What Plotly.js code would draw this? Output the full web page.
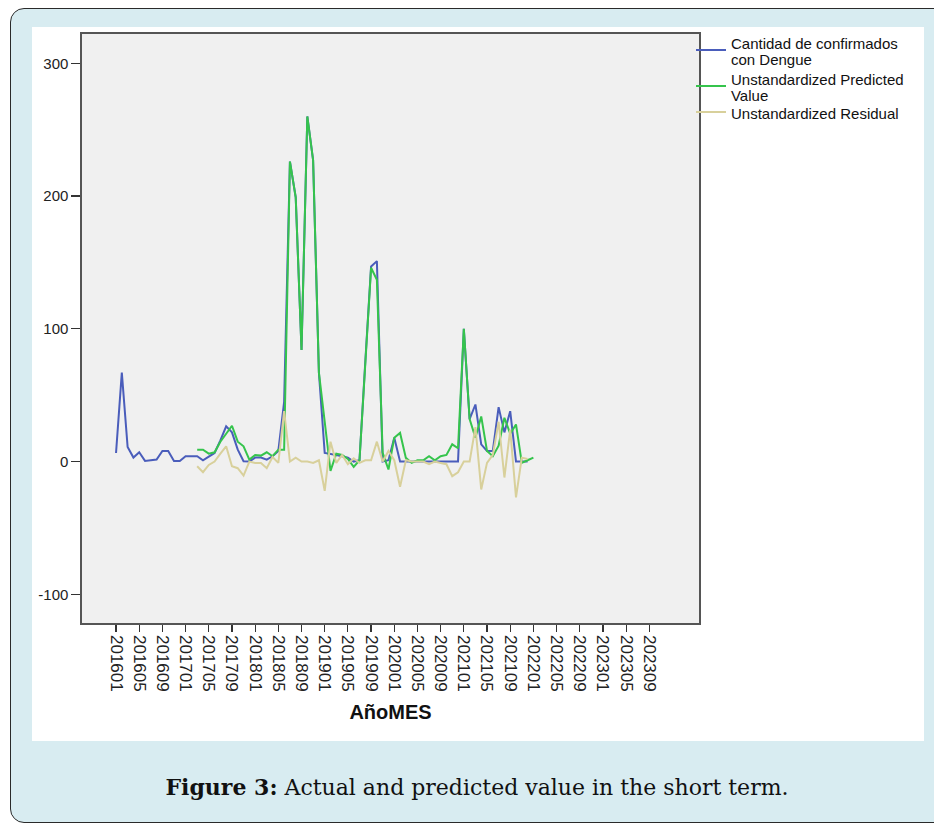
<!DOCTYPE html>
<html>
<head>
<meta charset="utf-8">
<script src="https://cdn.plot.ly/plotly-3.0.1.min.js"></script>
<style>
html,body{margin:0;padding:0;background:#fff;width:934px;height:825px;overflow:hidden;}
#frame{position:absolute;left:10px;top:8px;width:1000px;height:813px;border:1.5px solid #2a2a2a;border-radius:14px;background:#d8ecf1;}
#panel{position:absolute;left:32px;top:27px;width:892px;height:714px;background:#fff;}
#chart{position:absolute;left:0;top:0;width:934px;height:825px;}
#caption{position:absolute;left:0;width:954px;top:775px;text-align:center;font-family:"DejaVu Serif",serif;font-size:22px;line-height:25px;color:#111;}
</style>
</head>
<body>
<div id="frame"></div>
<div id="panel"></div>
<div id="chart"></div>
<div id="caption"><b>Figure 3:</b> Actual and predicted value in the short term.</div>
<script>
// Month categories (AñoMES), 201601 .. 202309
const YEARS = [2016, 2017, 2018, 2019, 2020, 2021, 2022, 2023];
const MONTH_NUMS = ['01','02','03','04','05','06','07','08','09','10','11','12'];
const MONTHS = YEARS.flatMap(y => MONTH_NUMS.map(m => String(y) + m)).filter(s => s <= '202309');

// Tick labels shown on the x axis
const TICK_LABELS = ['201601','201605','201609','201701','201705','201709','201801','201805',
  '201809','201901','201905','201909','202001','202005','202009','202101','202105','202109',
  '202201','202205','202209','202301','202305','202309'];

// Y tick values and labels
const Y_TICKS = [-100, 0, 100, 200, 300];
const Y_TICK_LABELS = ['-100', '0', '100', '200', '300'];

// Cantidad de confirmados con Dengue: 201601 .. 202112
const ACTUAL_START = '201601';
const actual = [6.5, 67, 11, 3, 7, 0.5, 1, 1.5, 8, 8, 0.5, 0.5,
  4, 4, 4, 1, 3.5, 6.5, 16, 26.5, 22, 9, 0.3, 0,
  3, 3, 1.5, 4, 8, 45, 226, 199, 84, 260, 227, 67,
  6.5, 6, 5, 4, 3, 0, 1, 75, 147, 151, 0, 1,
  18, 0, 0, 0, 0, 0, 0, 0, 0, 0, 0, 0,
  100, 32, 43, 13, 8, 8, 41, 22, 38, 0, 0, 0];

// Unstandardized Predicted Value: 201703 .. 202201
const PRED_START = '201703';
const predicted = [9, 9, 6, 7, 15, 21, 27, 15, 11.5, 1.5,
  5, 4.5, 7, 4, 9, 9, 226, 199, 84, 260, 227, 67,
  28, -7, 6, 5, 2, -4, 1, 73, 146, 137, 6.5, -6,
  18, 21.6, 2.8, -1, 1, 1, 4, 1, 4, 5, 13, 10,
  100, 32, 18, 34, 8, 4, 12, 33, 21, 28, -1, 1, 3];

// Unstandardized Residual: 201703 .. 202112
const RESID_START = '201703';
const residual = [-3.5, -8, -2.5, 0, 6, 11.5, -3.5, -5, -10.5, 0,
  -1, -1, -5, 3.5, -1, 38, 0, 3, 0, 0, -1, 1,
  -22, 15, -1, 5, -2, 2.5, -1, 1, 1, 15, 0, 8,
  1, -19, 1, 0, 0, 0, -2, 0, -1, -2, -11, -8,
  0, 0, 26, -21, -1, 5, 30, -12, 24, -27, 3, 2];

function xs(start, n) {
  const i0 = MONTHS.indexOf(start);
  return MONTHS.slice(i0, i0 + n);
}

const traces = [
  {x: xs(ACTUAL_START, actual.length), y: actual, type: 'scatter', mode: 'lines',
   name: 'Cantidad de confirmados<br>con Dengue', line: {color: '#4a5dbb', width: 2}},
  {x: xs(PRED_START, predicted.length), y: predicted, type: 'scatter', mode: 'lines',
   name: 'Unstandardized Predicted<br>Value', line: {color: '#35c44c', width: 2}},
  {x: xs(RESID_START, residual.length), y: residual, type: 'scatter', mode: 'lines',
   name: 'Unstandardized Residual', line: {color: '#d8d09b', width: 2}}
];

const layout = {
  width: 934, height: 825,
  paper_bgcolor: 'rgba(0,0,0,0)', plot_bgcolor: '#f0f0f0',
  margin: {l: 82, r: 235, t: 34, b: 202, pad: 0},
  font: {family: '"Liberation Sans", Arial, sans-serif', color: '#222'},
  showlegend: true,
  legend: {x: 0.987, xanchor: 'left', y: 1.0085, yanchor: 'top', bgcolor: 'rgba(0,0,0,0)',
           font: {size: 15, color: '#111'}, borderwidth: 0},
  xaxis: {
    type: 'category', categoryorder: 'array', categoryarray: MONTHS,
    range: [-5.87, 100.57], tickmode: 'array', tickvals: TICK_LABELS, ticktext: TICK_LABELS,
    tickangle: 90, ticks: 'outside', ticklen: 7, tickwidth: 1.2, tickcolor: '#333',
    tickfont: {size: 17, color: '#222'},
    showgrid: false, zeroline: false, showline: true, linecolor: '#555', linewidth: 1.6, mirror: true,
    title: {text: '<b>AñoMES</b>', font: {size: 20, color: '#111'}, standoff: 14}
  },
  yaxis: {
    range: [-121.6, 322.1], tickmode: 'array', tickvals: Y_TICKS, ticktext: Y_TICK_LABELS,
    ticks: 'outside', ticklen: 9, tickwidth: 1.2, tickcolor: '#333',
    tickfont: {size: 15, color: '#222'},
    showgrid: false, zeroline: false, showline: true, linecolor: '#555', linewidth: 1.6, mirror: true
  }
};

// Make the legend more compact, like the reference, without letting text lines overlap
function tightenLegend(gd) {
  try {
    const symbolTargets = [50, 86, 112];
    const items = gd.querySelectorAll('.legend .traces');
    items.forEach((g, i) => {
      const text = g.querySelector('text.legendtext');
      const lines = text ? text.querySelectorAll('tspan.line') : [];
      if (lines.length > 1) {
        for (let k = 1; k < lines.length; k++) lines[k].setAttribute('dy', (1.13 * k) + 'em');
      }
      const sym = g.querySelector('.legendlines path') || g.querySelector('.legendsymbols path');
      if (text && sym) {
        const sr = sym.getBoundingClientRect();
        const tr = text.getBoundingClientRect();
        const symY = sr.top + sr.height / 2;
        const txtY = tr.top + tr.height / 2;
        const dText = (symY + 1.5) - txtY;
        const t0 = text.getAttribute('transform') || '';
        text.setAttribute('transform', t0 + ' translate(0,' + dText.toFixed(2) + ')');
        const dG = symbolTargets[i] - symY;
        const gt = g.getAttribute('transform') || '';
        g.setAttribute('transform', gt + ' translate(0,' + dG.toFixed(2) + ')');
      }
    });
  } catch (e) { /* keep default legend if anything fails */ }
}

Plotly.newPlot('chart', traces, layout, {displayModeBar: false, staticPlot: true}).then(tightenLegend);
</script>
</body>
</html>
